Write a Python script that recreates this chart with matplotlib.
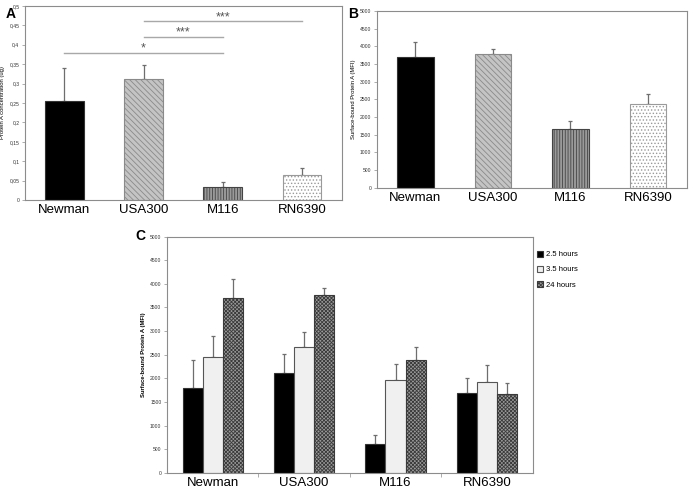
import matplotlib.pyplot as plt
import numpy as np

plt.rcParams['font.family'] = ['Liberation Sans', 'DejaVu Sans']
plt.rcParams['hatch.linewidth'] = 0.6

strains = ['Newman', 'USA300', 'M116', 'RN6390']

# panel A: protein A concentration (ug)
conc = [0.255, 0.313, 0.035, 0.065]
conc_err = [0.085, 0.034, 0.013, 0.017]
a_ticks = [0, 0.05, 0.1, 0.15, 0.2, 0.25, 0.3, 0.35, 0.4, 0.45, 0.5]
a_ticklabels = ['0', '0,05', '0,1', '0,15', '0,2', '0,25', '0,3', '0,35', '0,4', '0,45', '0,5']
# significance brackets: (start index, end index, height, label)
sig = [(0, 2, 0.38, '*'), (1, 2, 0.42, '***'), (1, 3, 0.46, '***')]

# panel B: surface-bound protein A at 24 h (MFI)
mfi = [3700, 3770, 1650, 2370]
mfi_err = [410, 150, 250, 280]

# panel C: time course (MFI)
times = ['2.5 hours', '3.5 hours', '24 hours']
mfi_c = {
    '2.5 hours': [1800, 2120, 610, 1690],
    '3.5 hours': [2460, 2660, 1960, 1930],
    '24 hours': [3710, 3770, 2380, 1660],
}
mfi_c_err = {
    '2.5 hours': [580, 400, 200, 310],
    '3.5 hours': [440, 330, 350, 360],
    '24 hours': [400, 150, 280, 250],
}
mfi_ticks = list(range(0, 5001, 500))

strain_style = [
    dict(color='black', edgecolor='#333333', hatch=None),
    dict(color='#c4c4c4', edgecolor='#8a8a8a', hatch='\\\\\\\\\\\\'),
    dict(color='#9a9a9a', edgecolor='#444444', hatch='||||||'),
    dict(color='white', edgecolor='#9a9a9a', hatch='.....'),
]
time_style = [
    dict(color='black', edgecolor='#333333', hatch=None),
    dict(color='#f0f0f0', edgecolor='#555555', hatch=None),
    dict(color='#9a9a9a', edgecolor='#3a3a3a', hatch='xxxxxxxxx'),
]

fig = plt.figure(figsize=(6.9, 4.93), dpi=100)


def style_axes(ax, ylabel, bold=False):
    for s in ax.spines.values():
        s.set_color('#8c8c8c')
        s.set_linewidth(0.8)
    ax.tick_params(axis='y', labelsize=3.6, length=2, width=0.5, color='#8c8c8c', pad=2, labelcolor='#333333')
    ax.tick_params(axis='x', labelsize=9.5, length=0, pad=3)
    ax.set_ylabel(ylabel, fontsize=4.2, fontweight='bold' if bold else 'normal', labelpad=3)


def draw_err(ax, x, y, err):
    ax.errorbar(x, y, yerr=[np.zeros(len(err)), err], fmt='none', ecolor='#6e6e6e',
                elinewidth=0.9, capsize=1.6, capthick=0.9, zorder=1)


x = np.arange(len(strains))

# ---- A ----
axA = fig.add_axes([0.036, 0.594, 0.459, 0.394])
for i in range(len(strains)):
    st = strain_style[i]
    axA.bar(x[i], conc[i], width=0.49, color=st['color'], edgecolor=st['edgecolor'],
            hatch=st['hatch'], linewidth=0.8, zorder=2)
draw_err(axA, x, conc, conc_err)
for i0, i1, h, lab in sig:
    axA.plot([x[i0], x[i1]], [h, h], color='#a8a8a8', lw=1.0)
    axA.text((x[i0] + x[i1]) / 2, h - 0.004, lab, ha='center', va='bottom', fontsize=9, color='#555555')
axA.set_xlim(-0.5, 3.5)
axA.set_ylim(0, 0.5)
axA.set_yticks(a_ticks)
axA.set_yticklabels(a_ticklabels)
axA.set_xticks(x)
axA.set_xticklabels(strains)
style_axes(axA, 'Protein A concentration (ug)')
fig.text(0.008, 0.985, 'A', fontsize=10, fontweight='bold', va='top')

# ---- B ----
axB = fig.add_axes([0.546, 0.619, 0.449, 0.359])
for i in range(len(strains)):
    st = strain_style[i]
    axB.bar(x[i], mfi[i], width=0.47, color=st['color'], edgecolor=st['edgecolor'],
            hatch=st['hatch'], linewidth=0.8, zorder=2)
draw_err(axB, x, mfi, mfi_err)
axB.set_xlim(-0.5, 3.5)
axB.set_ylim(0, 5000)
axB.set_yticks(mfi_ticks)
axB.set_xticks(x)
axB.set_xticklabels(strains)
style_axes(axB, 'Surface-bound Protein A (MFI)')
fig.text(0.505, 0.985, 'B', fontsize=10, fontweight='bold', va='top')

# ---- C ----
axC = fig.add_axes([0.242, 0.041, 0.530, 0.479])
w = 0.22
for j, t in enumerate(times):
    st = time_style[j]
    xs = x + (j - 1) * w
    axC.bar(xs, mfi_c[t], width=w, color=st['color'], edgecolor=st['edgecolor'],
            hatch=st['hatch'], linewidth=0.8, zorder=2, label=t)
    draw_err(axC, xs, mfi_c[t], mfi_c_err[t])
axC.set_xlim(-0.5, 3.5)
axC.set_ylim(0, 5000)
axC.set_yticks(mfi_ticks)
axC.set_xticks(x)
axC.set_xticklabels(strains)
axC.set_xticks(np.arange(0.5, 3.5, 1), minor=True)
axC.tick_params(axis='x', which='minor', length=3, width=0.5, color='#8c8c8c')
style_axes(axC, 'Surface-bound Protein A (MFI)', bold=True)
axC.legend(loc='upper left', bbox_to_anchor=(1.0, 0.96), frameon=False, fontsize=5.5,
           handlelength=0.8, handleheight=0.8, handletextpad=0.3, labelspacing=1.0,
           borderaxespad=0.2)
fig.text(0.196, 0.535, 'C', fontsize=10, fontweight='bold', va='top')

fig.savefig('out.png', dpi=100, facecolor='white')
